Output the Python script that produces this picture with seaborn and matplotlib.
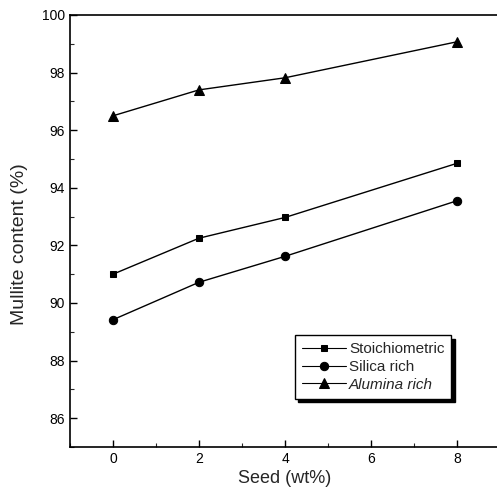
import matplotlib
matplotlib.use("Agg")
import matplotlib.pyplot as plt
import seaborn as sns
import pandas as pd
from matplotlib.ticker import MultipleLocator

seed = [0, 2, 4, 8]
stoichiometric = [91.0, 92.25, 92.97, 94.85]
silica_rich = [89.42, 90.72, 91.62, 93.55]
alumina_rich = [96.5, 97.4, 97.82, 99.07]
series_names = ["Stoichiometric", "Silica rich", "Alumina rich"]

df = pd.DataFrame({
    "Seed": seed * 3,
    "Value": stoichiometric + silica_rich + alumina_rich,
    "Series": [series_names[0]] * 4 + [series_names[1]] * 4 + [series_names[2]] * 4,
})

sns.set_style("ticks")
plt.rcParams["font.family"] = ["Liberation Sans", "DejaVu Sans"]

fig = plt.figure(figsize=(4.97, 4.97), dpi=100)
ax = fig.add_axes([70 / 497, 50 / 497, 430 / 497, 432 / 497])

sns.lineplot(data=df, x="Seed", y="Value", hue="Series", style="Series",
             palette=["black"] * 3, markers=["s", "o", "^"], dashes=False,
             markersize=7, linewidth=1.0, markeredgecolor="black", ax=ax)

sizes = {"s": 5.0, "o": 6.0, "^": 7.5}
for ln in ax.lines:
    m = ln.get_marker()
    if m in sizes:
        ln.set_markersize(sizes[m])

ax.set_xlim(-1, 9)
ax.set_ylim(85, 100)
ax.xaxis.set_major_locator(MultipleLocator(2))
ax.xaxis.set_minor_locator(MultipleLocator(1))
ax.yaxis.set_minor_locator(MultipleLocator(1))
ax.set_yticks([86, 88, 90, 92, 94, 96, 98, 100])
ax.tick_params(which="major", direction="in", length=5, width=1, labelsize=10, colors="black")
ax.tick_params(which="minor", direction="in", length=3, width=0.8)
for s in ax.spines.values():
    s.set_linewidth(1.2)
    s.set_color("black")

ax.set_xlabel("Seed (wt%)", fontsize=13, labelpad=3)
ax.set_ylabel("Mullite content (%)", fontsize=14)
ax.yaxis.set_label_coords(-0.098, 0.47)

leg = ax.legend(title=None, loc="lower right", bbox_to_anchor=(0.887, 0.112),
                fontsize=11, frameon=True, fancybox=False, edgecolor="black",
                shadow={"color": "black", "alpha": 1, "ox": 2.5, "oy": -2.5},
                borderpad=0.45, handlelength=2.9, handletextpad=0.2,
                labelspacing=0.25, borderaxespad=0)
leg.get_frame().set_linewidth(1.0)
leg_sizes = {"s": 4.5, "o": 6.0, "^": 7.0}
for h in leg.legend_handles:
    m = h.get_marker()
    if m in leg_sizes:
        h.set_markersize(leg_sizes[m])
    h.set_linewidth(0.8)
for t in leg.get_texts():
    if t.get_text() == "Alumina rich":
        t.set_style("italic")

fig.savefig("out.png", dpi=100)
